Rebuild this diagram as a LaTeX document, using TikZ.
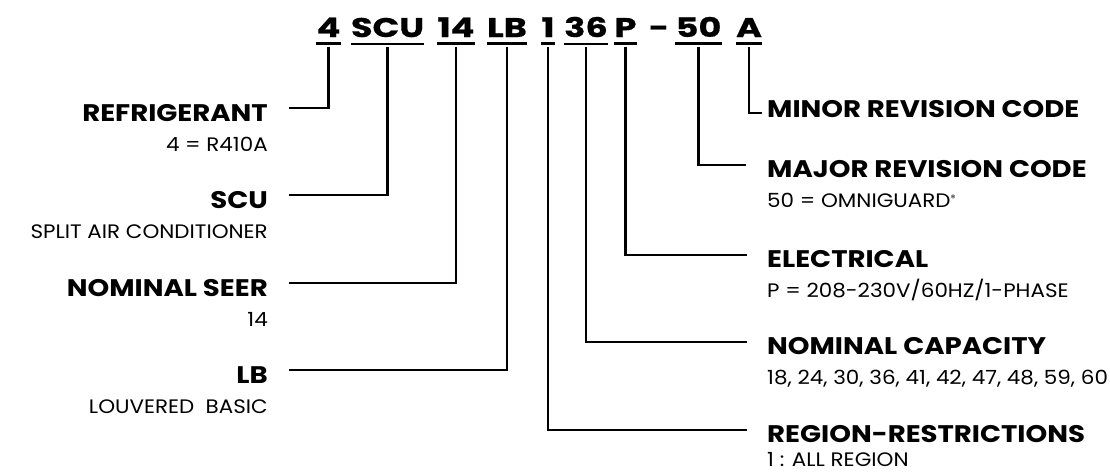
\documentclass[tikz,border=0pt]{standalone}
\usepackage{fontspec}
\setmainfont{Poppins}
\newfontfamily\codefont[FakeStretch=1.3,FakeBold=0.6]{Poppins}
\newfontfamily\headfont[FakeStretch=1.15]{Poppins}
\newfontfamily\subfont[FakeStretch=1.1]{Poppins}
\usetikzlibrary{calc,positioning}

\begin{document}
\begin{tikzpicture}[x=1pt,y=-1pt]
  \def\YCODE{37}
  \def\XLEFT{268}
  \def\XRIGHT{767}
  \def\SUBSKIP{30pt}
  \def\DROP{-9.5pt}
  \def\ULINE{-6.3pt}

  \tikzset{
      code/.style={inner sep=0pt,anchor=base,
        font=\codefont\bfseries\fontsize{27}{27}\selectfont},
      head/.style={inner sep=0pt,font=\headfont\bfseries\fontsize{24}{24}\selectfont},
      sub/.style={inner sep=0pt,font=\subfont\fontsize{19.5}{19.5}\selectfont},
      uline/.style={line width=2.2pt},
      lead/.style={line width=2.8pt,line join=miter},
  }

  \useasboundingbox (0,0) rectangle (1110,472);

  % the model number
  \node [code] (c4)   at (328.5,\YCODE) {4};
  \node [code] (cSCU) at (387.5,\YCODE) {SCU};
  \node [code] (c14)  at (456,\YCODE) {14};
  \node [code] (cLB)  at (507,\YCODE) {LB};
  \node [code] (c1)   at (548,\YCODE) {1};
  \node [code] (c36)  at (586,\YCODE) {36};
  \node [code] (cP)   at (625.5,\YCODE) {P};
  \node [code] (cdash) at (659,\YCODE) {-};
  \node [code] (c50)  at (698.5,\YCODE) {50};
  \node [code] (cA)   at (749,\YCODE) {A};

  \foreach \n in {c4,cSCU,c14,cLB,c1,c36,cP,c50,cA}
    \draw [uline] ([yshift=\ULINE]\n.south west) -- ([yshift=\ULINE]\n.south east);

  % left column
  \node [head,anchor=base east] (refrig) at (\XLEFT,121) {REFRIGERANT};
  \node [sub,anchor=base east] (refrigsub) at ([yshift=-\SUBSKIP]refrig.base east) {4 = R410A};
  \node [head,anchor=base east] (scu) at (\XLEFT,208) {SCU};
  \node [sub,anchor=base east] (scusub) at ([yshift=-\SUBSKIP]scu.base east) {SPLIT AIR CONDITIONER};
  \node [head,anchor=base east] (seer) at (\XLEFT,296) {NOMINAL SEER};
  \node [sub,anchor=base east] (seersub) at ([yshift=-\SUBSKIP]seer.base east) {14};
  \node [head,anchor=base east] (lb) at (\XLEFT,383) {LB};
  \node [sub,anchor=base east] (lbsub) at ([yshift=-\SUBSKIP]lb.base east) {LOUVERED~~BASIC};

  \draw [lead] ([yshift=\DROP]c4.south)   |- ([shift={(21pt,13pt)}]refrig.base east);
  \draw [lead] ([yshift=\DROP]cSCU.south) |- ([shift={(21pt,13pt)}]scu.base east);
  \draw [lead] ([yshift=\DROP]c14.south)  |- ([shift={(21pt,13pt)}]seer.base east);
  \draw [lead] ([yshift=\DROP]cLB.south)  |- ([shift={(21pt,13pt)}]lb.base east);

  % right column
  \node [head,anchor=base west] (minor) at (\XRIGHT,117.5) {MINOR REVISION CODE};
  \node [head,anchor=base west] (major) at (\XRIGHT,177) {MAJOR REVISION CODE};
  \node [sub,anchor=base west] (majorsub) at ([yshift=-\SUBSKIP]major.base west)
    {50 = OMNIGUARD\raisebox{6pt}{\fontsize{9}{9}\selectfont ®}};
  \node [head,anchor=base west] (elec) at (\XRIGHT,267) {ELECTRICAL};
  \node [sub,anchor=base west] (elecsub) at ([yshift=-\SUBSKIP]elec.base west) {P = 208-230V/60HZ/1-PHASE};
  \node [head,anchor=base west] (cap) at (\XRIGHT,354) {NOMINAL CAPACITY};
  \node [sub,anchor=base west] (capsub) at ([yshift=-\SUBSKIP]cap.base west) {18, 24, 30, 36, 41, 42, 47, 48, 59, 60};
  \node [head,anchor=base west] (region) at (\XRIGHT,442) {REGION-RESTRICTIONS};
  \node [sub,anchor=base west] (regionsub) at ([yshift=-24pt]region.base west) {1 : ALL REGION};

  \draw [lead] ([yshift=\DROP]cA.south)  |- ([shift={(-5pt,4.5pt)}]minor.base west);
  \draw [lead] ([yshift=\DROP]c50.south) |- ([shift={(-21pt,12pt)}]major.base west);
  \draw [lead] ([yshift=\DROP]cP.south)  |- ([shift={(-20pt,12pt)}]elec.base west);
  \draw [lead] ([yshift=\DROP]c36.south) |- ([shift={(-20pt,12pt)}]cap.base west);
  \draw [lead] ([yshift=\DROP]c1.south)  |- ([shift={(-20pt,12pt)}]region.base west);
\end{tikzpicture}
\end{document}
